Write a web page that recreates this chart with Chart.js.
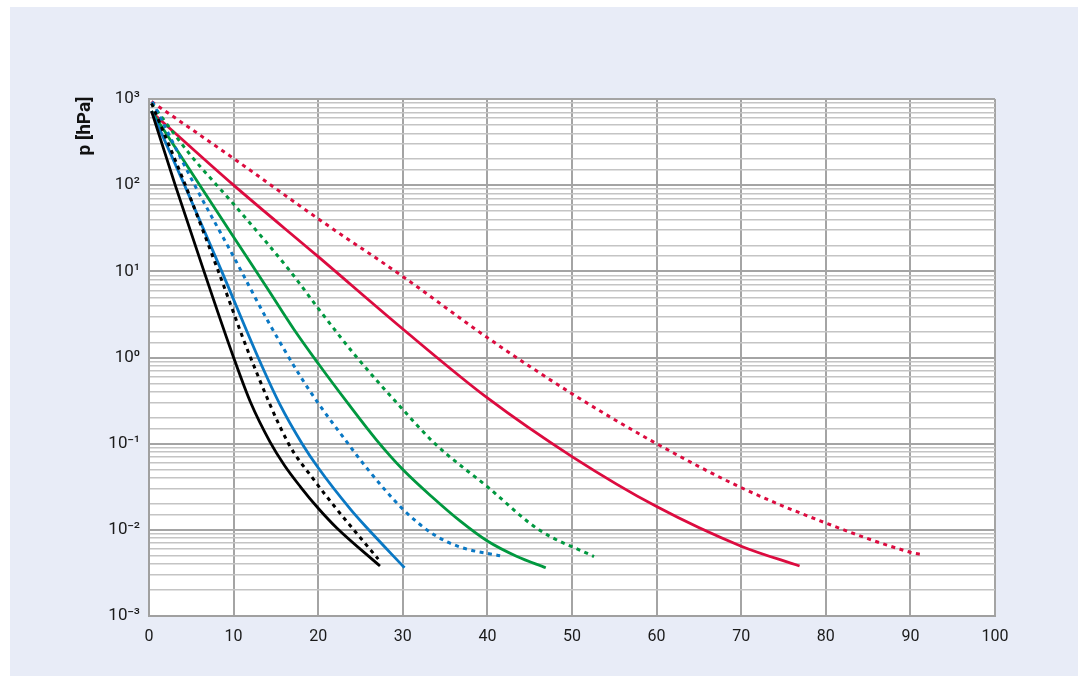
<!DOCTYPE html>
<html>
<head>
<meta charset="utf-8">
<script src="https://cdn.jsdelivr.net/npm/chart.js@4.4.1/dist/chart.umd.min.js"></script>
<style>
html,body{margin:0;padding:0;background:#ffffff;}
canvas{display:block;}
</style>
</head>
<body>
<canvas id="c" width="1088" height="683"></canvas>
<script>
// ---- data ----
const xTickValues = [0, 10, 20, 30, 40, 50, 60, 70, 80, 90, 100];
const yTickLabels = { '-3': '10⁻³', '-2': '10⁻²', '-1': '10⁻¹', '0': '10⁰', '1': '10¹', '2': '10²', '3': '10³' };
const yTitle = 'p [hPa]';

const blackSolidX = [0.3, 3.1, 6.5, 10, 12, 14.3, 16, 17.9, 20, 22.2, 27.3];
const blackSolidP = [724, 100, 10, 1, 0.302, 0.105, 0.0562, 0.0316, 0.0178, 0.0105, 0.0038];

const blackDotX = [0.3, 4.3, 8.2, 12, 16.5, 19.5, 22.1, 24.2, 27.1];
const blackDotP = [891, 100, 10, 1, 0.1, 0.038, 0.0178, 0.01, 0.00457];

const blueSolidX = [0.3, 4.2, 8.6, 12.9, 15.5, 18.1, 20, 23.8, 25.7, 30.2];
const blueSolidP = [724, 100, 10, 1, 0.282, 0.1, 0.0525, 0.0174, 0.0107, 0.00363];

const blueDotX = [0.4, 5.4, 10, 13.9, 17.9, 20, 23, 25.8, 30, 33.6, 36.8, 41.5];
const blueDotP = [933, 100, 14.8, 2.82, 0.603, 0.295, 0.1175, 0.0513, 0.0174, 0.0089, 0.0063, 0.005];

const greenSolidX = [0.3, 5.6, 10, 14, 17.1, 20, 23.5, 26.9, 30, 33.6, 36.8, 40, 43.5, 46.9];
const greenSolidP = [724, 115, 25.1, 6.31, 2.14, 0.851, 0.295, 0.110, 0.0501, 0.0234, 0.0126, 0.00741, 0.0049, 0.00363];

const greenDotX = [0.3, 4.9, 10, 16.7, 20, 24.4, 29.7, 33.8, 40, 46.1, 52.6];
const greenDotP = [891, 224, 60.3, 10, 3.72, 1.05, 0.269, 0.1, 0.0316, 0.01, 0.0049];

const redSolidX = [0.3, 10, 20, 30, 40, 50, 60, 70, 76.9];
const redSolidP = [708, 100, 14.8, 2.14, 0.339, 0.0708, 0.0186, 0.00646, 0.0038];

const redDotX = [0.3, 10, 20, 30, 40, 50, 60, 70, 80, 90, 91.5];
const redDotP = [933, 204, 40.7, 8.71, 1.70, 0.380, 0.1, 0.0309, 0.012, 0.0055, 0.00513];

// ---- styling ----
const COL = { black: '#000000', blue: '#0a78c4', green: '#00983f', red: '#dc0b3f' };
const FONT = 'Roboto, "DejaVu Sans", sans-serif';

function pts(xs, ps) { return xs.map((x, i) => ({ x: x, y: ps[i] })); }
function solid(label, xs, ps, color) {
  return { label, data: pts(xs, ps), borderColor: color, borderWidth: 2.8, pointRadius: 0,
    fill: false, cubicInterpolationMode: 'monotone', borderCapStyle: 'butt' };
}
function dotted(label, xs, ps, color) {
  return { label, data: pts(xs, ps), borderColor: color, borderWidth: 3, pointRadius: 0,
    fill: false, cubicInterpolationMode: 'monotone', borderDash: [4, 4.5], borderCapStyle: 'butt' };
}

function isDecade(v) {
  const l = Math.log10(v);
  return Math.abs(l - Math.round(l)) < 1e-6;
}

const bgPlugin = {
  id: 'bg',
  beforeDraw(chart) {
    const { ctx, chartArea: a } = chart;
    ctx.save();
    ctx.fillStyle = '#e8ecf7';
    ctx.fillRect(10, 7, 1068, 669);
    ctx.fillStyle = '#ffffff';
    ctx.fillRect(a.left, a.top, a.right - a.left, a.bottom - a.top);
    ctx.restore();
  },
  afterDraw(chart) {
    const ctx = chart.ctx;
    ctx.save();
    ctx.translate(90, 126);
    ctx.rotate(-Math.PI / 2);
    ctx.font = 'bold 19px ' + FONT;
    ctx.fillStyle = '#111111';
    ctx.textAlign = 'center';
    ctx.textBaseline = 'alphabetic';
    ctx.fillText(yTitle, 0, 0);
    ctx.restore();
  }
};

new Chart(document.getElementById('c'), {
  type: 'line',
  data: {
    datasets: [
      dotted('black dotted', blackDotX, blackDotP, COL.black),
      solid('black', blackSolidX, blackSolidP, COL.black),
      dotted('blue dotted', blueDotX, blueDotP, COL.blue),
      solid('blue', blueSolidX, blueSolidP, COL.blue),
      dotted('green dotted', greenDotX, greenDotP, COL.green),
      solid('green', greenSolidX, greenSolidP, COL.green),
      dotted('red dotted', redDotX, redDotP, COL.red),
      solid('red', redSolidX, redSolidP, COL.red)
    ]
  },
  options: {
    responsive: false,
    animation: false,
    devicePixelRatio: 1,
    layout: { padding: { top: 99, right: 93, bottom: 0, left: 0 } },
    plugins: { legend: { display: false }, tooltip: { enabled: false } },
    scales: {
      x: {
        type: 'linear', min: 0, max: 100,
        afterFit(s) { s.height = 67; },
        afterBuildTicks(s) { s.ticks = xTickValues.map(v => ({ value: v })); },
        ticks: { color: '#1a1a1a', font: { family: FONT, size: 16 }, padding: 11, autoSkip: false },
        grid: { color: '#a4a4a4', lineWidth: 2, drawTicks: false },
        border: { display: true, color: '#a0a0a0', width: 2 }
      },
      y: {
        type: 'logarithmic', min: 0.001, max: 1000,
        afterFit(s) { s.width = 149; },
        ticks: {
          autoSkip: false, color: '#1a1a1a', font: { family: FONT, size: 17 }, padding: 9,
          callback(v) {
            if (!isDecade(v)) return '';
            return yTickLabels[String(Math.round(Math.log10(v)))];
          }
        },
        grid: {
          drawTicks: false,
          color: c => (c.tick && isDecade(c.tick.value)) ? '#a4a4a4' : '#c4c4c4',
          lineWidth: c => (c.tick && isDecade(c.tick.value)) ? 2 : 1.5
        },
        border: { display: true, color: '#a0a0a0', width: 2 }
      }
    }
  },
  plugins: [bgPlugin]
});
</script>
</body>
</html>
